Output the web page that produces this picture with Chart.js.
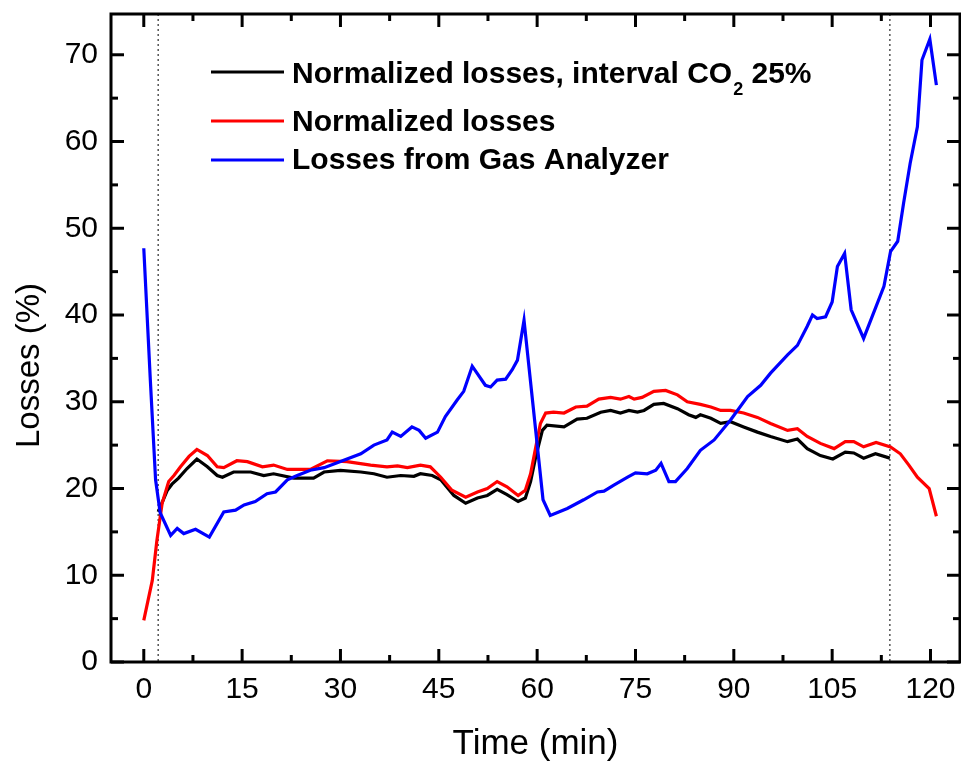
<!DOCTYPE html>
<html>
<head>
<meta charset="utf-8">
<script src="https://cdn.jsdelivr.net/npm/chart.js@4.4.1/dist/chart.umd.min.js"></script>
<style>
  html, body { margin: 0; padding: 0; background: #fff; }
  canvas { display: block; }
</style>
</head>
<body>
<canvas id="chart" width="961" height="762"></canvas>
<script>
// values (time in min, losses in %)
const blackT = [2.2, 3.6, 4.3, 5.3, 6.6, 8.1, 9.7, 11.2, 12, 13.7, 16.3, 18.3, 19.8, 22.9, 25.9, 27.5, 30, 33.1, 35.1, 37.1, 39.2, 41.2, 42.2, 44, 45.3, 47.3, 49.1, 50.9, 52.4, 53.9, 55.4, 57.1, 58.2, 59, 59.8, 60.8, 61.5, 64.1, 66.1, 67.6, 69.7, 71.2, 72.7, 74, 75.3, 76.3, 77.8, 79.3, 81.4, 83.1, 84.2, 84.9, 86.5, 88, 89.5, 91.5, 93.6, 95.6, 98.2, 99.7, 101.2, 103.2, 105.1, 107, 108.3, 109.8, 111.6, 113.8];
const blackV = [17.3, 19.8, 20.5, 21.2, 22.3, 23.4, 22.5, 21.5, 21.3, 21.9, 21.9, 21.5, 21.7, 21.2, 21.2, 21.9, 22.1, 21.9, 21.7, 21.3, 21.5, 21.4, 21.7, 21.5, 21.0, 19.2, 18.3, 18.9, 19.2, 19.9, 19.3, 18.5, 18.9, 20.8, 23.7, 26.7, 27.3, 27.1, 28.0, 28.1, 28.8, 29.0, 28.7, 29.0, 28.8, 29.0, 29.7, 29.8, 29.2, 28.5, 28.2, 28.5, 28.1, 27.5, 27.7, 27.1, 26.5, 26.0, 25.4, 25.7, 24.6, 23.8, 23.4, 24.2, 24.1, 23.5, 24.0, 23.5];

const redT = [0, 1.3, 2, 2.8, 3.8, 4.6, 5.6, 6.9, 8.1, 9.7, 11.2, 12.2, 14.2, 15.8, 18.1, 19.8, 21.9, 25.4, 28, 31, 34.6, 37.1, 38.7, 40.2, 42.2, 43.7, 45.3, 47, 49.1, 50.9, 52.4, 53.9, 55.4, 57.1, 58.2, 59, 59.8, 60.5, 61.3, 62.5, 64.1, 65.9, 67.6, 69.4, 71.2, 72.7, 74, 74.8, 76, 77.8, 79.6, 81.4, 82.9, 84.9, 86.5, 88, 89.5, 91.5, 93.6, 95.6, 98.2, 99.7, 101.2, 103.2, 105.3, 107, 108.3, 109.8, 111.7, 113.9, 115.4, 116.7, 118, 119.8, 120.9];
const redV = [4.8, 9.4, 14, 18.3, 20.8, 21.5, 22.5, 23.7, 24.5, 23.8, 22.5, 22.4, 23.2, 23.1, 22.5, 22.7, 22.2, 22.2, 23.2, 23.1, 22.7, 22.5, 22.6, 22.4, 22.7, 22.5, 21.3, 19.8, 19, 19.6, 20, 20.8, 20.2, 19.2, 19.8, 21.7, 24.8, 27.5, 28.7, 28.8, 28.7, 29.4, 29.5, 30.3, 30.5, 30.3, 30.6, 30.3, 30.5, 31.2, 31.3, 30.8, 30, 29.7, 29.4, 29, 29, 28.7, 28.2, 27.5, 26.7, 26.9, 26.0, 25.2, 24.6, 25.4, 25.4, 24.8, 25.3, 24.8, 24.0, 22.7, 21.3, 20, 16.8];

const blueT = [0, 1, 1.8, 2.5, 4.1, 5.1, 6.1, 7.9, 10, 12.2, 14, 15.3, 17, 18.8, 20.1, 21.9, 23.4, 25.4, 27.5, 30, 33.1, 35.1, 37.1, 37.9, 39.2, 40.9, 42, 43, 44.8, 46, 47.8, 48.8, 50.1, 52.1, 52.9, 53.9, 55.2, 56.2, 57, 58, 60.9, 62, 64.6, 67.1, 69.2, 70.2, 71.7, 73.8, 75, 76.8, 78.1, 78.9, 80.1, 81.1, 82.9, 84.9, 87, 89.5, 92.1, 94.1, 95.6, 98.2, 99.7, 101.2, 102, 102.7, 104, 105, 105.8, 106.9, 107.9, 109.8, 112.9, 113.9, 115, 115.9, 116.9, 118, 118.7, 119.9, 120.9];
const blueV = [47.7, 32.5, 21, 17.2, 14.6, 15.4, 14.8, 15.3, 14.4, 17.3, 17.5, 18.1, 18.5, 19.4, 19.6, 21, 21.5, 22.1, 22.4, 23.1, 24.0, 25.0, 25.6, 26.5, 26.0, 27.1, 26.7, 25.8, 26.5, 28.3, 30.2, 31.2, 34.1, 31.9, 31.7, 32.5, 32.6, 33.7, 34.8, 39.4, 18.7, 16.9, 17.7, 18.7, 19.6, 19.7, 20.4, 21.3, 21.8, 21.7, 22.1, 22.9, 20.8, 20.8, 22.3, 24.4, 25.6, 27.9, 30.6, 31.9, 33.3, 35.4, 36.5, 38.7, 40, 39.6, 39.8, 41.5, 45.6, 47.1, 40.6, 37.3, 43.3, 47.3, 48.5, 52.9, 57.5, 61.7, 69.4, 71.8, 66.5];

const xTicks = [0, 15, 30, 45, 60, 75, 90, 105, 120];
const yTicks = [0, 10, 20, 30, 40, 50, 60, 70];
const intervalMarks = [2.2, 113.8];

const seriesNames = ["Normalized losses, interval CO", "Normalized losses", "Losses from Gas Analyzer"];
const seriesColors = ["#000000", "#ff0000", "#0000ff"];

const axisFont = "'Liberation Sans', Arial, sans-serif";
const legendFont = "'Liberation Sans', Arial, sans-serif";

function pts(t, v) {
  return t.map((x, i) => ({ x: x, y: v[i] }));
}

function midpoints(arr) {
  const out = [];
  for (let i = 0; i < arr.length - 1; i++) out.push((arr[i] + arr[i + 1]) / 2);
  return out;
}

// frame with inward ticks on all four sides, dotted interval lines, legend
const decor = {
  id: "decor",
  beforeDatasetsDraw(chart) {
    const { ctx, chartArea: a, scales } = chart;
    ctx.save();
    ctx.strokeStyle = "#555";
    ctx.lineWidth = 1.5;
    ctx.setLineDash([2, 3]);
    intervalMarks.forEach(m => {
      const x = scales.x.getPixelForValue(m);
      ctx.beginPath();
      ctx.moveTo(x, a.top);
      ctx.lineTo(x, a.bottom);
      ctx.stroke();
    });
    ctx.restore();
  },
  afterDraw(chart) {
    const { ctx, chartArea: a, scales } = chart;
    ctx.save();
    ctx.strokeStyle = "#000";
    ctx.lineWidth = 3;
    ctx.strokeRect(a.left, a.top, a.right - a.left, a.bottom - a.top);

    const tick = (x1, y1, x2, y2) => {
      ctx.beginPath();
      ctx.moveTo(x1, y1);
      ctx.lineTo(x2, y2);
      ctx.stroke();
    };
    const xs = [[xTicks, 13], [midpoints(xTicks), 7]];
    xs.forEach(([vals, len]) => vals.forEach(v => {
      const x = scales.x.getPixelForValue(v);
      tick(x, a.bottom, x, a.bottom - len);
      tick(x, a.top, x, a.top + len);
    }));
    const ys = [[yTicks, 13], [midpoints(yTicks), 7]];
    ys.forEach(([vals, len]) => vals.forEach(v => {
      const y = scales.y.getPixelForValue(v);
      tick(a.left, y, a.left + len, y);
      tick(a.right, y, a.right - len, y);
    }));

    // legend
    const rows = [
      { line: 72, base: 83 },
      { line: 121, base: 131 },
      { line: 160, base: 169 }
    ];
    ctx.textAlign = "left";
    ctx.textBaseline = "alphabetic";
    rows.forEach((r, i) => {
      ctx.strokeStyle = seriesColors[i];
      ctx.lineWidth = 3;
      tick(211, r.line, 284, r.line);
      ctx.fillStyle = "#000";
      ctx.font = "bold 30px " + legendFont;
      ctx.fillText(seriesNames[i], 292, r.base);
      if (i === 0) {
        let x = 292 + ctx.measureText(seriesNames[i]).width + 1;
        ctx.font = "bold 18px " + legendFont;
        ctx.fillText("2", x, r.base + 12);
        x += ctx.measureText("2").width;
        ctx.font = "bold 30px " + legendFont;
        ctx.fillText(" 25%", x, r.base);
      }
    });
    ctx.restore();
  }
};

const lineStyle = (label, data, color) => ({
  label: label,
  data: data,
  borderColor: color,
  borderWidth: 3.2,
  pointRadius: 0,
  tension: 0,
  fill: false
});

new Chart(document.getElementById("chart"), {
  type: "line",
  data: {
    datasets: [
      lineStyle("Losses from Gas Analyzer", pts(blueT, blueV), seriesColors[2]),
      lineStyle("Normalized losses", pts(redT, redV), seriesColors[1]),
      lineStyle("Normalized losses, interval CO2 25%", pts(blackT, blackV), seriesColors[0])
    ]
  },
  options: {
    responsive: false,
    animation: false,
    devicePixelRatio: 1,
    layout: { padding: { top: 14, right: 1, left: 0, bottom: 0 } },
    plugins: {
      legend: { display: false },
      tooltip: { enabled: false }
    },
    scales: {
      x: {
        type: "linear",
        min: -5,
        max: 124.5,
        grid: { display: false },
        border: { display: false },
        afterBuildTicks: s => { s.ticks = xTicks.map(v => ({ value: v })); },
        afterFit: s => { s.height = 100; s.paddingLeft = 0; s.paddingRight = 0; },
        ticks: {
          color: "#000",
          padding: 2,
          maxRotation: 0,
          font: { family: axisFont, size: 30 }
        },
        title: {
          display: true,
          text: "Time (min)",
          color: "#000",
          padding: { top: 0, bottom: 0 },
          font: { family: axisFont, size: 35, lineHeight: 1 }
        }
      },
      y: {
        min: 0,
        max: 74.7,
        grid: { display: false },
        border: { display: false },
        afterBuildTicks: s => { s.ticks = yTicks.map(v => ({ value: v })); },
        afterFit: s => { s.width = 111; s.paddingTop = 0; s.paddingBottom = 0; },
        ticks: {
          color: "#000",
          padding: 5,
          font: { family: axisFont, size: 30 }
        },
        title: {
          display: true,
          text: "Losses (%)      ",
          color: "#000",
          padding: { top: 13, bottom: 0 },
          font: { family: axisFont, size: 33, lineHeight: 1 }
        }
      }
    }
  },
  plugins: [decor]
});
</script>
</body>
</html>
